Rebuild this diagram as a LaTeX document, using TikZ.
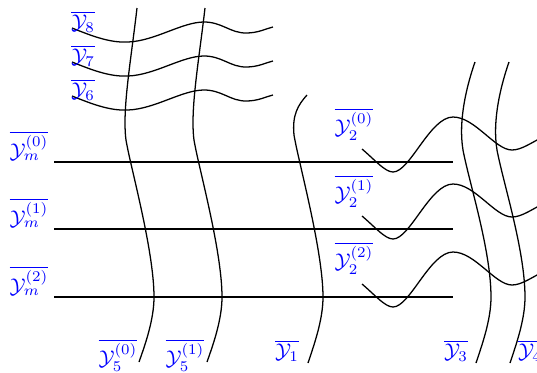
\documentclass[tikz,border=0pt]{standalone}
\tikzset{
  wire/.style={line width=0.6pt, black},
  thickwire/.style={line width=1.2pt, black},
  lab/.style={blue, inner sep=0pt, outer sep=0pt, anchor=center},
}
\begin{document}
\begin{tikzpicture}[x=0.47pt, y=-0.47pt]
\clip (0,0) rectangle (537,372);
\useasboundingbox (0,0) rectangle (537,372);

% thick horizontal lines
\coordinate (h0a) at (54,162); \coordinate (h0b) at (453,162);
\coordinate (h1a) at (54,229); \coordinate (h1b) at (453,229);
\coordinate (h2a) at (54,297); \coordinate (h2b) at (453,297);
\draw[thickwire] (h0a) -- (h0b);
\draw[thickwire] (h1a) -- (h1b);
\draw[thickwire] (h2a) -- (h2b);

% Y8, Y7, Y6 wavy lines
\foreach \dy in {0,34,68}{
  \begin{scope}[yshift=-\dy*0.47pt]
  \draw[wire] (72,28) .. controls (92,36) and (110,43) .. (128,42)
     .. controls (155,41) and (182,22) .. (204,22)
     .. controls (222,22) and (230,33) .. (246,33)
     .. controls (258,33) and (265,29) .. (273,27);
  \end{scope}
}

% Y5 vertical lines
\foreach \dx in {0,68}{
  \begin{scope}[xshift=\dx*0.47pt]
  \draw[wire] (137,8) .. controls (131,60) and (122,110) .. (126,140)
     .. controls (130,165) and (154,250) .. (154,297)
     .. controls (154,320) and (145,345) .. (139,362);
  \end{scope}
}

% Y1 vertical line
\draw[wire] (307,95) .. controls (298,105) and (292,115) .. (294,135)
   .. controls (298,160) and (323,250) .. (323,297)
   .. controls (323,320) and (314,345) .. (308,363);

% Y3 and Y4 vertical lines
\draw[wire] (475,62) .. controls (467,85) and (458,120) .. (463,150)
   .. controls (469,182) and (491,250) .. (491,297)
   .. controls (491,320) and (482,345) .. (476,363);
\draw[wire] (509,62) .. controls (501,85) and (492,120) .. (497,150)
   .. controls (503,182) and (525,250) .. (525,297)
   .. controls (525,320) and (516,345) .. (510,363);

% Y2 wavy lines
\foreach \dy in {0,67,135}{
  \begin{scope}[yshift=-\dy*0.47pt]
  \draw[wire] (362,149) .. controls (375,160) and (385,172) .. (393,172)
     .. controls (410,172) and (430,117) .. (453,117)
     .. controls (475,117) and (495,150) .. (512,150)
     .. controls (522,150) and (532,142) .. (545,136);
  \end{scope}
}

% labels
\node[lab] (y8) at (83,22) {$\overline{\mathcal{Y}_8}$};
\node[lab] (y7) at (83,56) {$\overline{\mathcal{Y}_7}$};
\node[lab] (y6) at (83,90) {$\overline{\mathcal{Y}_6}$};
\node[lab] (ym0) at (29,146) {$\overline{\mathcal{Y}_m^{(0)}}$};
\node[lab] (ym1) at (29,213) {$\overline{\mathcal{Y}_m^{(1)}}$};
\node[lab] (ym2) at (29,281) {$\overline{\mathcal{Y}_m^{(2)}}$};
\node[lab] (y20) at (354,124) {$\overline{\mathcal{Y}_2^{(0)}}$};
\node[lab] (y21) at (354,191) {$\overline{\mathcal{Y}_2^{(1)}}$};
\node[lab] (y22) at (354,258) {$\overline{\mathcal{Y}_2^{(2)}}$};
\node[lab] (y50) at (118,355) {$\overline{\mathcal{Y}_5^{(0)}}$};
\node[lab] (y51) at (185,355) {$\overline{\mathcal{Y}_5^{(1)}}$};
\node[lab] (y1) at (287,351) {$\overline{\mathcal{Y}_1}$};
\node[lab] (y3) at (456,351) {$\overline{\mathcal{Y}_3}$};
\node[lab] (y4) at (530,351) {$\overline{\mathcal{Y}_4}$};
\end{tikzpicture}
\end{document}
